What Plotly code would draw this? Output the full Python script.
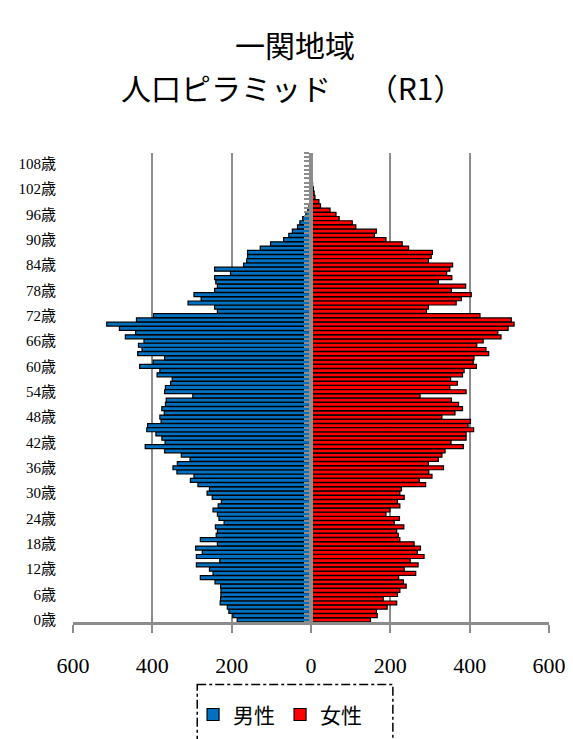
import plotly.graph_objects as go

# ages 0..110
ages = list(range(0, 111))

male = [186, 197, 207, 211, 229, 228, 227, 227, 228, 242,
        279, 247, 256, 289, 230, 289, 274, 291, 236, 279,
        239, 236, 241, 219, 232, 236, 247, 234, 226, 249,
        262, 256, 285, 304, 295, 338, 348, 337, 305, 327,
        369, 418, 368, 376, 391, 414, 412, 378, 381, 370,
        376, 367, 365, 298, 369, 367, 354, 350, 388, 381,
        432, 398, 369, 437, 426, 435, 421, 468, 442, 483,
        515, 440, 397, 236, 243, 310, 277, 295, 243, 236,
        240, 243, 203, 243, 170, 162, 160, 160, 128, 102,
        69, 56, 47, 34, 28, 21, 13, 8, 5, 3,
        2, 1, 1, 0, 0, 0, 0, 0, 0, 0, 0]

female = [150, 167, 165, 192, 216, 182, 218, 224, 240, 233,
          221, 264, 235, 270, 250, 285, 268, 276, 260, 224,
          220, 216, 234, 210, 223, 189, 199, 224, 218, 235,
          224, 228, 289, 273, 305, 297, 334, 296, 321, 330,
          338, 384, 353, 391, 391, 410, 396, 402, 330, 363,
          382, 372, 354, 275, 391, 350, 369, 352, 382, 386,
          417, 409, 411, 448, 441, 418, 434, 479, 471, 497,
          512, 505, 426, 291, 296, 366, 379, 404, 354, 390,
          321, 355, 342, 350, 357, 296, 303, 306, 246, 230,
          189, 160, 165, 113, 104, 71, 63, 48, 24, 20,
          10, 8, 6, 4, 2, 1, 1, 0, 0, 0, 0]

age_ticks = list(range(0, 109, 6))
age_labels = [f"{a}歳" for a in age_ticks]
x_ticks = [-600, -400, -200, 0, 200, 400, 600]
x_labels = ["600", "400", "200", "0", "200", "400", "600"]

GRAY = "#8c8c8c"
SERIF = "Liberation Serif, Noto Sans CJK JP"
SANS = "Noto Sans CJK JP"

fig = go.Figure()
fig.add_trace(go.Bar(
    y=ages, x=[-v for v in male], orientation="h", name="男性",
    customdata=male, hovertemplate="%{y}歳: %{customdata}<extra>男性</extra>",
    marker=dict(color="#0070C0", line=dict(color="black", width=1.2)),
))
fig.add_trace(go.Bar(
    y=ages, x=female, orientation="h", name="女性",
    hovertemplate="%{y}歳: %{x}<extra>女性</extra>",
    marker=dict(color="#FF0000", line=dict(color="black", width=1.2)),
))
# dummy trace so the centre axis gets drawn
fig.add_trace(go.Scatter(x=[0], y=[0], yaxis="y2", mode="markers",
                         marker=dict(opacity=0), showlegend=False,
                         hoverinfo="skip"))

# page body has an 8px margin, so the figure is offset by 8px
fig.update_layout(
    width=573, height=739,
    margin=dict(l=65, r=32, t=145, b=120),
    paper_bgcolor="white", plot_bgcolor="white",
    barmode="relative", bargap=0.06,
    showlegend=True,
    legend=dict(orientation="h", x=0.435, xanchor="center",
                y=-0.198, yanchor="middle", bgcolor="rgba(0,0,0,0)",
                font=dict(family=SERIF, size=21, color="black"),
                itemwidth=30, traceorder="normal"),
    xaxis=dict(range=[-600, 600], tickvals=x_ticks, ticktext=x_labels,
               showgrid=True, gridcolor=GRAY, gridwidth=2,
               zeroline=False, showline=True, linecolor=GRAY, linewidth=3,
               ticks="outside", ticklen=8, tickwidth=2, tickcolor=GRAY,
               tickfont=dict(family="Liberation Serif", size=22, color="black"),
               ticklabelstandoff=14, fixedrange=True, automargin=False),
    yaxis=dict(range=[-0.5, 110.5], tickvals=age_ticks, ticktext=age_labels,
               showgrid=False, zeroline=False, showline=False, ticks="",
               tickfont=dict(family=SERIF, size=15, color="black"),
               ticklabelstandoff=16, fixedrange=True, automargin=False),
    yaxis2=dict(range=[-0.5, 110.5], overlaying="y", anchor="free",
                position=0.5, side="left", showgrid=False, zeroline=False,
                showline=True, linecolor=GRAY, linewidth=3.5,
                tickvals=[a - 0.5 for a in ages] + [110.5],
                ticks="outside", ticklen=5, tickwidth=1.5, tickcolor=GRAY,
                showticklabels=False, fixedrange=True, automargin=False),
    annotations=[
        dict(text="一関地域", xref="paper", yref="paper", x=0.467, y=1.232,
             xanchor="center", yanchor="middle", showarrow=False,
             font=dict(family=SANS, size=30, color="black")),
        dict(text="人口ピラミッド　 （R1）", xref="paper", yref="paper",
             x=0.46, y=1.14, xanchor="center", yanchor="middle",
             showarrow=False, font=dict(family=SANS, size=30, color="black")),
    ],
    shapes=[
        dict(type="rect", xref="paper", yref="paper",
             x0=0.261, x1=0.672, y0=-0.133, y1=-0.26,
             line=dict(color="black", width=1.5, dash="dashdot")),
    ],
)

fig.write_html("out.html")
